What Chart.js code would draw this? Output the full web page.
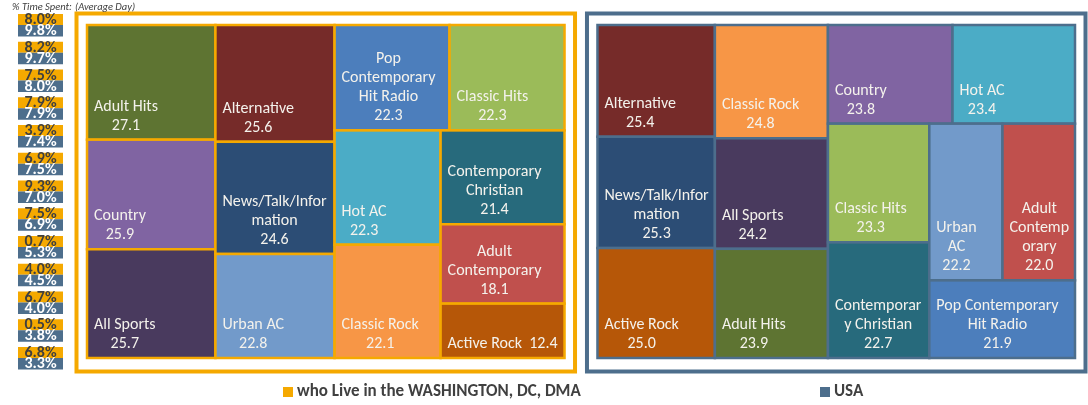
<!DOCTYPE html>
<html>
<head>
<meta charset="utf-8">
<script src="https://cdn.jsdelivr.net/npm/chart.js@4.4.0/dist/chart.umd.min.js"></script>
<style>
  html, body { margin: 0; padding: 0; background: #fff; }
  #wrap { width: 1088px; height: 405px; }
</style>
</head>
<body>
<div id="wrap"><canvas id="myChart" width="1088" height="405"></canvas></div>
<script>
// radio formats, same order in both markets
var formats = ['Adult Hits', 'Alternative', 'Pop Contemporary Hit Radio', 'Classic Hits', 'Country',
  'News/Talk/Information', 'Hot AC', 'Contemporary Christian', 'Adult Contemporary',
  'All Sports', 'Urban AC', 'Classic Rock', 'Active Rock'];
var dcValues = [27.1, 25.6, 22.3, 22.3, 25.9, 24.6, 22.3, 21.4, 18.1, 25.7, 22.8, 22.1, 12.4];
var usaValues = [23.9, 25.4, 21.9, 23.3, 23.8, 25.3, 23.4, 22.7, 22.0, 24.2, 22.2, 24.8, 25.0];
var formatColors = ['#5E7432', '#762B29', '#4C7EBC', '#9BBB59', '#8064A2', '#2C4D75', '#4BACC6',
  '#276A7C', '#C0504D', '#493A5E', '#729ACA', '#F79646', '#B65708'];

// % time spent column (average day)
var timeDc = ['8.0%', '8.2%', '7.5%', '7.9%', '3.9%', '6.9%', '9.3%', '7.5%', '0.7%', '4.0%', '6.7%', '0.5%', '6.8%'];
var timeUsa = ['9.8%', '9.7%', '8.0%', '7.9%', '7.4%', '7.5%', '7.0%', '6.9%', '5.3%', '4.5%', '4.0%', '3.8%', '3.3%'];

var panelNames = ['who Live in the WASHINGTON, DC, DMA', 'USA'];
var panelColors = ['#F5A900', '#4D6E8C'];
var panelGap = 0.069;
var panelStart = [0, 1 + panelGap];

var FONT = 'Carlito, Calibri, Lato, sans-serif';

function worst(row, side) {
  var s = 0, mx = -Infinity, mn = Infinity;
  row.forEach(function (r) { s += r.a; mx = Math.max(mx, r.a); mn = Math.min(mn, r.a); });
  return Math.max(side * side * mx / (s * s), (s * s) / (side * side * mn));
}

// squarified treemap (a little lenient, like Excel), in pixels taken from the scales
function squarify(items, x, y, w, h) {
  var total = items.reduce(function (t, it) { return t + it.v; }, 0);
  var k = w * h / total;
  var rest = items.map(function (it) { return { it: it, a: it.v * k }; });
  var out = [];
  while (rest.length) {
    var side = Math.min(w, h);
    var row = [rest[0]], best = worst(row, side), i = 1;
    while (i < rest.length) {
      var cand = row.concat([rest[i]]);
      var wc = worst(cand, side);
      if (wc > best * 1.25) break;
      row = cand; best = wc; i++;
    }
    rest = rest.slice(row.length);
    var area = row.reduce(function (t, r) { return t + r.a; }, 0);
    if (w >= h) {
      var cw = area / h, cy = y;
      row.forEach(function (r) { var rh = r.a / cw; out.push({ it: r.it, x: x, y: cy, w: cw, h: rh }); cy += rh; });
      x += cw; w -= cw;
    } else {
      var rh2 = area / w, cx = x;
      row.forEach(function (r) { var rw = r.a / rh2; out.push({ it: r.it, x: cx, y: y, w: rw, h: rh2 }); cx += rw; });
      y += rh2; h -= rh2;
    }
  }
  return out;
}

function wrapText(ctx, text, maxW) {
  var words = text.split(' '), lines = [], cur = '';
  words.forEach(function (wd) {
    var test = cur ? cur + ' ' + wd : wd;
    if (ctx.measureText(test).width <= maxW) { cur = test; return; }
    if (cur) { lines.push(cur); cur = ''; }
    while (ctx.measureText(wd).width > maxW && wd.length > 1) {
      var n = wd.length;
      while (n > 1 && ctx.measureText(wd.slice(0, n)).width > maxW) n--;
      lines.push(wd.slice(0, n));
      wd = wd.slice(n);
    }
    cur = wd;
  });
  if (cur) lines.push(cur);
  return lines;
}

var treemapPlugin = {
  id: 'treemapPlugin',
  afterDatasetsDraw: function (chart) {
    var ctx = chart.ctx, xs = chart.scales.x, ys = chart.scales.y, rows = chart.scales.rows;
    ctx.save();

    chart.data.datasets.forEach(function (ds, p) {
      var x0 = xs.getPixelForValue(panelStart[p]), x1 = xs.getPixelForValue(panelStart[p] + 1);
      var y0 = ys.getPixelForValue(0), y1 = ys.getPixelForValue(1);
      var items = ds.data.map(function (v, i) {
        return { v: v, label: chart.data.labels[i], color: formatColors[i] };
      });
      items.sort(function (a, b) { return b.v - a.v; });
      var rects = squarify(items, x0, y0, x1 - x0, y1 - y0);

      // outer frame
      ctx.strokeStyle = ds.borderColor;
      ctx.lineWidth = 4;
      ctx.strokeRect(x0 - 10.5, y0 - 11.5, x1 - x0 + 21, y1 - y0 + 25);

      ctx.font = '16px ' + FONT;
      rects.forEach(function (r) {
        ctx.fillStyle = r.it.color;
        ctx.fillRect(r.x, r.y, r.w, r.h);
        ctx.strokeStyle = ds.borderColor;
        ctx.lineWidth = 2.5;
        ctx.strokeRect(r.x, r.y, r.w, r.h);

        var val = r.it.v.toFixed(1);
        var lines = wrapText(ctx, r.it.label, r.w - 12.5);
        if (r.h < 60 && lines.length === 1) lines = [lines[0] + '  ' + val];
        else lines.push(val);
        var bw = Math.max.apply(null, lines.map(function (l) { return ctx.measureText(l).width; }));
        var cx = r.x + 7 + bw / 2;
        ctx.fillStyle = '#F4F2EC';
        ctx.textAlign = 'center';
        ctx.textBaseline = 'middle';
        lines.forEach(function (l, j) {
          ctx.fillText(l, cx, r.y + r.h - 14 - (lines.length - 1 - j) * 19);
        });
      });
    });

    // % time spent column
    ctx.textAlign = 'left';
    ctx.textBaseline = 'middle';
    ctx.fillStyle = '#404040';
    ctx.font = 'italic 10.5px ' + FONT;
    ctx.fillText('% Time Spent:', 12, 7);
    ctx.fillText('(Average Day)', 75, 7);

    ctx.textAlign = 'center';
    ctx.font = 'bold 16px ' + FONT;
    timeDc.forEach(function (t, i) {
      var cy = rows.getPixelForValue(i);
      ctx.fillStyle = panelColors[0];
      ctx.fillRect(18, cy - 11, 45, 11);
      ctx.fillStyle = panelColors[1];
      ctx.fillRect(18, cy, 45, 11.5);
      ctx.fillStyle = '#3F3F3F';
      ctx.fillText(t, 40.5, cy - 5);
      ctx.fillStyle = '#FFFFFF';
      ctx.fillText(timeUsa[i], 40.5, cy + 6);
    });

    // legend
    var legendX = [283, 820];
    ctx.textAlign = 'left';
    ctx.font = 'bold 17px ' + FONT;
    chart.data.datasets.forEach(function (ds, p) {
      ctx.fillStyle = ds.borderColor;
      ctx.fillRect(legendX[p], 387, 10, 10);
      ctx.fillStyle = '#404040';
      ctx.fillText(ds.label, legendX[p] + 14, 392);
    });
    ctx.restore();
  }
};

var myChart = new Chart(document.getElementById('myChart').getContext('2d'), {
  type: 'scatter',
  data: {
    labels: formats,
    datasets: [
      { label: panelNames[0], data: dcValues, borderColor: panelColors[0], backgroundColor: panelColors[0], pointRadius: 0 },
      { label: panelNames[1], data: usaValues, borderColor: panelColors[1], backgroundColor: panelColors[1], pointRadius: 0 }
    ]
  },
  options: {
    responsive: false,
    animation: false,
    events: [],
    layout: { padding: { left: 87, right: 13, top: 25, bottom: 47 } },
    plugins: { legend: { display: false }, tooltip: { enabled: false } },
    scales: {
      x: { type: 'linear', min: 0, max: 2 + panelGap, display: false },
      y: { type: 'linear', min: 0, max: 1, reverse: true, display: false },
      rows: { type: 'category', axis: 'y', labels: timeDc, offset: false, display: false }
    }
  },
  plugins: [treemapPlugin]
});
</script>
</body>
</html>
